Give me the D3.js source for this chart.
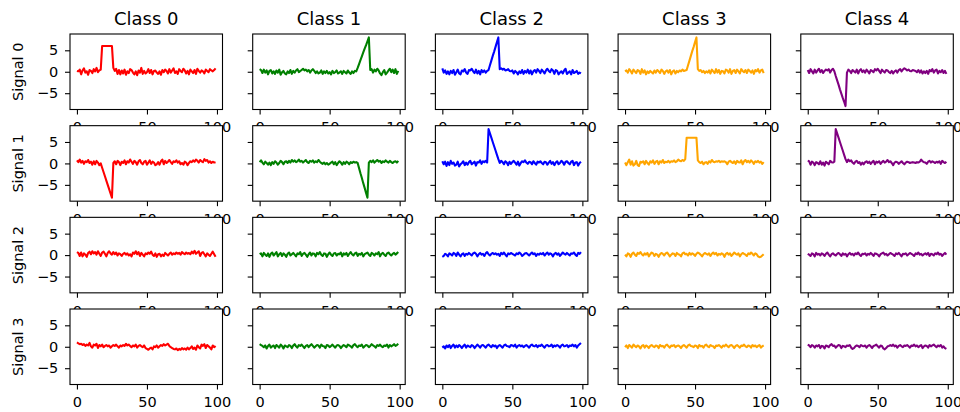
<!DOCTYPE html>
<html>
<head>
<meta charset="utf-8">
<script src="https://d3js.org/d3.v7.min.js"></script>
<style>
  body { margin: 0; background: #fff; }
  text { font-family: "DejaVu Sans", sans-serif; fill: #000; }
</style>
</head>
<body>
<div id="chart"></div>
<script>
const classes = ["Class 0", "Class 1", "Class 2", "Class 3", "Class 4"];
const signals = ["Signal 0", "Signal 1", "Signal 2", "Signal 3"];
const xTicks = [0, 50, 100];
const yTicks = [-5, 0, 5];

// Signal 0
const s0c0 = [0.2,0.1,0.5,-0.6,0.3,0.8,-0.2,0.1,-0.7,0.4,
  0.2,-0.3,0.6,0.1,0.9,-0.1,0.3,0.5,6,6,
  6,6,6,6,6,6,0.9,0.2,0.7,-0.5,
  0.4,-0.6,0.3,-0.4,0.5,-0.7,0.1,-0.3,0.6,0.4,
  -0.2,-0.6,0.1,-0.8,0.3,-0.2,0.9,-0.5,0.2,-0.4,
  -0.1,0.6,-0.3,0.4,-0.6,0.2,0.3,-0.2,-0.5,0.1,
  -0.7,0.4,-0.1,0.5,0.2,-0.4,0.6,-0.2,0.3,0.8,
  -0.3,0.1,-0.5,0.6,0.2,-0.1,0.7,0.3,-0.4,0.2,
  -0.6,0.5,0.1,-0.3,0.4,-0.5,0.7,0.2,-0.2,0.3,
  0.1,-0.4,0.5,0.2,-0.1,0.6,0.3,0.1,0.4,0.8];
const s0c1 = [0.6,0.4,-0.3,0.5,-0.2,0.3,-0.6,0.2,0.4,-0.4,
  0.1,-0.5,0.3,-0.2,0.5,-0.7,-0.1,0.2,-0.4,-0.6,
  0.1,-0.3,0.4,-0.5,0.2,-0.2,0.3,0.6,-0.1,0.2,
  0.4,0.7,0.3,0.5,0.1,0.4,-0.2,0.3,0.6,0.2,
  -0.3,0.1,-0.4,-0.2,0.3,-0.5,0.1,-0.3,0.2,-0.4,
  -0.1,-0.6,0.2,-0.3,-0.1,0.3,-0.4,-0.2,0.1,-0.5,
  0.2,-0.1,-0.4,0.3,-0.2,-0.5,0.1,-0.3,0.2,0.1,
  0.9,1.8,2.7,3.6,4.5,5.4,6.2,7.1,8.0,0.4,
  0.6,-0.2,0.5,0.1,0.7,0.3,-0.4,-0.8,-0.1,0.4,
  -0.6,-0.2,0.3,0.7,-0.1,0.5,-0.3,0.6,-0.5,0.2];
const s0c2 = [0.8,-0.2,0.3,-0.5,0.1,-0.6,0.2,-0.3,0.4,-0.7,
  -0.1,0.5,-0.4,-0.6,0.3,0.1,0.6,-0.2,-0.5,0.4,
  0.3,0.7,0.1,-0.3,0.5,-0.4,0.2,-0.6,0.4,-0.1,
  0.3,-0.2,0.2,0.4,1.5,2.6,3.7,4.7,5.8,6.9,
  8.0,0.6,0.8,0.5,0.7,0.3,0.4,0.6,0.2,0.1,
  0.3,-0.4,0.2,-0.1,-0.6,0.1,-0.3,0.4,-0.5,0.2,
  -0.2,0.5,-0.4,0.3,-0.6,0.1,0.4,-0.2,0.6,0.2,
  -0.3,0.5,0.1,-0.4,0.3,0.7,0.2,-0.1,0.6,0.3,
  -0.5,0.4,0.2,-0.6,-0.2,0.1,-0.4,0.3,0.7,-0.5,
  -0.2,0.1,-0.6,0.4,-0.3,-0.1,0.2,-0.5,-0.2,-0.4];
const s0c3 = [0.1,0.3,-0.2,0.6,0.2,-0.4,0.5,0.1,-0.3,0.4,
  0.2,-0.5,0.6,-0.2,0.3,-0.6,0.1,-0.3,0.2,-0.1,
  -0.4,0.3,-0.2,0.4,0.1,-0.3,0.5,0.2,-0.5,0.1,
  0.3,-0.2,0.4,-0.6,0.1,0.3,-0.4,0.2,-0.1,0.3,
  0.1,0.5,0.2,0.3,0.4,1.5,2.6,3.7,4.8,5.8,
  6.9,8.0,0.6,0.2,0.4,-0.1,0.2,-0.3,0.1,-0.2,
  0.3,-0.4,0.5,0.1,-0.3,0.6,-0.2,0.4,-0.5,0.2,
  0.1,-0.4,0.5,0.3,-0.2,0.6,-0.5,0.2,0.4,-0.3,
  0.5,0.1,-0.4,0.6,0.2,-0.1,0.4,-0.3,0.5,0.2,
  -0.2,0.3,-0.5,0.4,0.1,0.6,-0.2,0.3,0.5,-0.3];
const s0c4 = [0.4,-0.3,0.6,0.1,-0.4,0.5,-0.2,0.3,0.7,-0.1,
  0.4,-0.3,0.2,0.5,0.3,0.6,-0.2,0.4,0.7,0.1,
  -1.0,-2.0,-3.0,-4.1,-5.1,-6.1,-7.0,-8.0,-0.2,0.5,
  0.2,-0.3,0.4,0.1,-0.2,0.5,-0.4,0.3,0.6,-0.1,
  0.3,-0.2,0.5,0.1,-0.4,0.4,0.2,-0.1,0.6,0.3,
  0.7,0.2,-0.3,0.5,0.1,-0.2,0.4,0.3,-0.1,-0.3,
  0.2,-0.4,0.1,0.3,-0.2,0.4,0.6,0.1,0.5,0.8,
  0.6,0.3,0.5,0.2,0.1,0.4,0.3,0.2,-0.1,0.4,
  -0.2,0.3,-0.4,0.1,-0.3,0.2,-0.5,0.4,0.1,0.6,
  -0.2,0.3,0.5,-0.4,0.2,-0.1,0.4,-0.3,0.2,-0.5];

// Signal 1
const s1c0 = [0.7,0.3,0.9,0.2,0.6,-0.1,0.5,0.3,0.8,0.1,
  0.4,-0.3,0.5,-0.2,0.6,0.2,-0.4,0.0,-1.0,-2.0,
  -3.0,-4.0,-5.0,-6.0,-7.0,-8.0,0.1,0.5,-0.2,0.6,
  0.3,-0.4,0.4,0.1,0.7,-0.2,0.5,0.2,0.9,0.4,
  -0.1,0.6,0.3,-0.3,0.5,0.8,0.1,-0.2,0.4,0.6,
  -0.3,0.2,0.7,-0.1,0.4,0.2,-0.4,-0.2,0.3,-0.3,
  0.5,0.9,-0.2,0.6,0.1,0.4,0.8,0.3,-0.1,0.5,
  0.3,0.7,0.2,0.5,-0.2,0.1,-0.3,0.4,0.2,-0.4,
  0.1,0.5,0.3,0.7,0.4,0.9,0.6,0.2,0.8,0.5,
  0.3,1.0,0.6,0.8,0.2,0.5,0.1,0.4,0.2,0.3];
const s1c1 = [0.3,0.7,0.2,-0.2,0.4,0.1,-0.3,0.2,-0.4,0.3,
  -0.1,0.5,0.2,-0.3,0.1,0.6,0.3,-0.2,0.4,0.5,
  0.1,0.6,0.2,0.8,0.4,0.7,0.3,0.5,0.9,0.4,
  0.6,0.2,0.5,0.8,0.3,0.1,0.6,0.4,0.7,0.2,
  0.5,0.3,0.8,0.4,0.1,-0.1,0.2,-0.2,0.1,-0.3,
  -0.1,0.2,0.4,-0.2,0.3,-0.4,0.1,0.5,0.2,-0.3,
  0.3,-0.1,0.4,0.2,-0.2,0.3,0.1,0.4,0.2,0.3,
  0.1,-1.1,-2.3,-3.4,-4.6,-5.7,-6.9,-8.0,0.2,0.6,
  0.3,0.7,0.2,0.5,0.8,0.4,0.6,0.1,0.5,0.3,
  0.7,0.4,0.2,0.6,0.3,0.1,0.4,0.5,0.2,0.6];
const s1c2 = [0.5,-0.2,0.4,-0.6,0.3,-0.4,0.6,-0.1,0.2,-0.5,
  -0.3,0.4,-0.7,-0.2,0.1,0.5,-0.4,0.2,-0.3,0.3,
  0.6,-0.2,0.1,0.4,-0.5,0.3,0.2,0.7,-0.1,0.5,
  0.3,0.6,0.2,8.0,7.0,6.0,5.0,4.0,3.0,2.0,
  1.0,0.1,0.6,0.3,-0.2,0.5,0.2,-0.4,0.4,-0.1,
  0.3,0.6,0.2,-0.3,0.4,-0.5,0.1,0.5,0.3,0.7,
  0.2,-0.1,0.4,0.3,-0.2,0.5,0.1,-0.3,0.4,0.2,
  0.5,0.1,-0.2,0.4,0.3,-0.3,0.2,0.6,-0.1,0.3,
  -0.4,0.2,0.5,-0.2,0.1,0.6,0.3,-0.3,0.4,0.5,
  0.1,-0.2,0.4,0.6,-0.4,0.2,0.3,-0.5,0.1,0.4];
const s1c3 = [0.2,-0.4,0.3,0.9,-0.3,0.5,-0.5,-0.2,0.6,-0.4,
  -0.6,0.4,0.2,0.5,-0.2,0.6,0.1,-0.3,0.5,0.2,
  0.7,-0.1,0.4,0.6,-0.2,0.5,0.2,0.8,0.1,0.4,
  0.3,0.6,0.2,0.5,0.4,0.7,0.3,0.5,0.9,0.6,
  0.5,0.8,0.6,1.0,6,6,6,6,6,6,
  6,6,0.7,0.3,0.1,0.4,-0.2,0.2,0.3,-0.1,
  0.5,0.2,0.8,0.4,0.3,0.5,0.4,0.6,0.3,0.5,
  0.4,0.5,0.3,-0.2,0.4,0.6,0.3,0.1,0.5,-0.1,
  0.6,0.3,0.2,0.7,-0.2,0.5,0.8,0.3,0.6,0.2,
  0.7,0.4,-0.1,0.5,0.3,0.6,0.2,0.4,-0.1,0.3];
const s1c4 = [0.6,0.5,-0.3,0.4,0.2,-0.4,0.3,0.1,-0.2,0.5,
  -0.3,0.2,-0.5,0.4,0.1,-0.2,0.6,0.3,0.2,0.4,
  8.0,7.0,6.0,5.0,4.0,3.0,2.0,1.0,0.3,0.9,
  0.5,0.7,0.2,-0.1,0.4,0.6,0.1,0.3,-0.3,0.2,
  -0.2,0.3,0.5,0.1,0.4,-0.1,0.3,0.6,-0.2,0.4,
  0.2,0.5,-0.1,0.3,0.6,0.2,0.4,0.8,0.3,0.5,
  0.1,-0.4,0.2,0.4,0.3,-0.1,0.2,0.5,0.1,-0.2,
  0.2,0.4,0.3,0.1,0.2,0.3,0.2,0.1,0.3,0.2,
  0.4,0.9,0.5,0.3,0.2,-0.1,0.4,0.6,0.2,0.5,
  0.3,0.1,0.4,0.2,0.5,-0.1,0.6,0.3,0.1,0.4];

// Signal 2
const s2c0 = [0.7,0.5,-0.2,0.6,-0.3,0.4,0.1,-0.4,0.5,0.8,
  0.2,0.9,0.4,0.7,0.1,0.9,0.3,-0.2,0.6,0.8,
  0.3,-0.3,0.5,0.9,0.4,0.1,0.7,0.2,0.6,-0.1,
  0.4,0.2,-0.2,0.3,0.5,0.1,0.4,-0.1,0.2,-0.3,
  0.6,0.3,0.9,0.2,0.7,-0.2,0.5,0.1,-0.3,0.4,
  0.2,0.6,0.3,0.8,0.1,-0.2,0.4,-0.4,0.2,0.3,
  -0.3,0.1,-0.2,0.5,0.2,-0.1,0.3,0.6,0.1,0.4,
  0.2,0.6,0.3,0.5,0.1,0.7,0.4,0.2,0.6,0.3,
  0.5,0.2,0.8,0.4,1.0,0.3,0.6,0.9,-0.2,0.5,
  0.7,0.2,-0.3,0.4,0.1,-0.2,0.3,0.8,0.2,-0.4];
const s2c1 = [0.2,0.4,-0.3,0.5,0.1,-0.2,0.4,-0.4,0.3,0.6,
  -0.1,0.3,0.7,-0.3,0.2,0.5,-0.2,0.4,0.1,-0.4,
  0.3,0.6,-0.1,0.2,0.5,0.1,-0.3,0.4,0.2,0.7,
  -0.2,0.3,0.5,0.1,-0.4,0.2,0.6,-0.1,0.4,0.3,
  -0.3,0.5,0.2,0.7,0.1,-0.2,0.4,0.3,-0.4,0.2,
  0.6,0.1,-0.2,0.4,0.5,-0.1,0.3,0.2,0.6,-0.3,
  0.4,0.1,0.5,-0.2,0.3,0.7,0.2,-0.1,0.4,0.6,
  -0.2,0.3,0.1,0.5,-0.3,0.2,0.4,0.6,0.1,-0.2,
  0.5,0.3,-0.1,0.4,0.2,0.7,-0.3,0.3,0.5,0.1,
  -0.2,0.4,0.6,0.2,-0.1,0.3,0.5,0.1,0.4,0.7];
const s2c2 = [-0.4,-0.2,0.3,0.1,-0.3,0.4,0.2,-0.1,0.5,0.3,
  -0.2,0.6,0.1,-0.3,0.2,0.4,-0.2,0.3,0.1,0.5,
  0.2,-0.1,0.4,0.6,0.3,-0.3,0.2,0.5,0.1,0.3,
  -0.2,0.4,0.7,0.2,-0.1,0.3,0.5,0.2,0.4,0.1,
  0.3,-0.2,0.5,0.2,0.6,0.1,-0.3,0.4,0.2,0.5,
  0.3,0.1,-0.1,0.4,0.2,0.6,0.3,-0.2,0.1,0.4,
  0.5,0.2,-0.1,0.3,0.6,0.2,0.4,-0.2,0.3,0.1,
  0.4,0.2,0.5,-0.1,0.3,0.6,0.1,0.4,0.2,-0.3,
  0.3,0.5,0.1,0.4,-0.2,0.2,0.6,0.3,0.1,0.5,
  0.2,-0.1,0.4,0.3,0.6,0.1,-0.2,0.5,0.3,0.7];
const s2c3 = [0.1,-0.3,0.4,0.2,-0.4,0.3,0.6,0.1,-0.2,0.5,
  0.3,0.7,0.2,-0.1,0.4,0.1,0.5,-0.3,0.2,0.6,
  0.4,-0.2,0.3,0.1,-0.4,0.2,0.5,0.3,-0.1,0.4,
  0.6,0.2,-0.3,0.1,0.4,0.3,-0.2,0.5,0.2,0.1,
  -0.3,0.4,0.6,0.2,0.3,-0.1,0.5,0.1,0.4,0.2,
  -0.2,0.3,0.6,0.4,0.1,-0.3,0.2,0.5,0.3,0.1,
  0.4,-0.2,0.3,0.6,0.2,0.5,-0.1,0.3,0.1,0.4,
  0.2,-0.4,0.3,0.5,0.1,0.4,-0.2,0.2,0.6,0.3,
  0.1,0.4,-0.3,0.2,0.5,0.3,0.1,-0.2,0.4,0.2,
  0.6,0.3,-0.1,0.4,0.2,-0.3,-0.5,-0.4,-0.1,0.2];
const s2c4 = [0.3,0.1,-0.2,0.4,0.2,-0.3,0.5,0.1,0.3,-0.1,
  0.4,0.2,-0.2,0.3,0.6,0.1,-0.3,0.2,0.4,0.1,
  -0.1,0.3,0.5,0.2,-0.2,0.4,0.1,0.3,-0.3,0.2,
  0.5,0.1,0.3,-0.1,0.4,0.2,0.6,0.1,-0.2,0.3,
  0.2,0.4,-0.1,0.3,0.1,0.5,0.2,-0.2,0.4,0.3,
  0.1,-0.3,0.2,0.4,0.6,0.1,0.3,-0.1,0.2,0.5,
  0.3,0.1,-0.2,0.4,0.2,0.5,0.1,-0.3,0.3,0.2,
  0.4,-0.1,0.2,0.5,0.3,0.1,-0.2,0.4,0.2,0.6,
  0.1,0.3,-0.1,0.2,0.4,0.1,0.5,-0.2,0.3,0.2,
  -0.1,0.4,0.2,0.6,0.1,0.3,-0.2,0.2,0.5,0.1];

// Signal 3
const s3c0 = [1.0,0.8,0.6,0.7,0.4,0.6,0.2,0.5,0.3,0.9,
  0.1,-0.2,0.5,0.3,0.7,-0.3,0.4,0.1,0.5,-0.1,
  0.2,0.4,0.1,0.3,-0.2,0.1,0.4,0.2,0.5,0.1,
  -0.2,0.3,0.1,0.4,0.2,0.7,0.3,0.5,0.2,-0.1,
  0.3,0.1,0.5,-0.2,0.2,0.4,0.1,-0.1,0.3,-0.3,
  -0.5,-0.7,-0.4,-0.2,-0.6,0.1,-0.1,0.3,-0.2,0.1,
  0.4,0.2,0.6,0.3,0.5,0.7,0.2,-0.1,-0.3,-0.5,
  -0.6,-0.4,-0.8,-0.5,-0.7,-0.3,-0.6,-0.4,-0.7,-0.2,
  -0.6,-0.3,0.1,-0.5,-0.2,-0.7,0.3,-0.1,-0.4,0.5,
  0.2,0.6,-0.3,0.4,0.1,-0.2,-0.6,0.3,-0.1,0.2];
const s3c1 = [0.6,0.4,0.2,-0.1,0.3,-0.4,0.2,0.5,-0.2,0.1,
  0.3,-0.3,0.4,0.1,-0.2,0.5,0.2,-0.4,0.3,0.1,
  -0.1,0.4,0.2,-0.3,0.3,0.6,0.1,-0.2,0.4,0.2,
  0.5,0.1,-0.3,0.2,0.4,-0.1,0.3,0.6,0.2,-0.2,
  0.1,0.4,0.3,-0.2,0.5,0.2,0.1,-0.3,0.4,0.3,
  -0.1,0.2,0.5,0.1,-0.2,0.3,0.4,0.2,-0.3,0.1,
  0.4,0.2,-0.1,0.5,0.3,0.1,-0.2,0.4,0.6,0.2,
  -0.1,0.3,0.2,0.5,-0.2,0.1,0.4,0.3,-0.1,0.2,
  0.6,0.3,0.1,-0.2,0.4,0.2,0.5,0.1,-0.1,0.3,
  0.2,0.5,-0.2,0.4,0.1,0.3,0.6,0.2,0.4,0.7];
const s3c2 = [-0.2,0.1,-0.4,0.3,-0.1,0.4,-0.3,0.2,0.5,-0.2,
  0.3,-0.1,0.4,0.1,-0.3,0.2,0.5,-0.2,0.3,0.1,
  -0.1,0.4,0.2,-0.3,0.1,0.5,0.2,-0.2,0.3,0.4,
  0.1,-0.2,0.3,0.5,0.2,-0.1,0.4,0.1,0.3,-0.3,
  0.2,0.4,0.1,-0.2,0.3,0.5,0.2,0.1,-0.1,0.4,
  0.3,0.1,0.5,-0.2,0.2,0.4,0.1,0.3,-0.1,0.2,
  0.4,0.1,-0.2,0.3,0.5,0.2,0.1,0.4,-0.1,0.3,
  0.2,0.5,0.1,-0.2,0.3,0.4,0.1,0.2,0.5,-0.1,
  0.3,0.1,0.4,0.2,-0.2,0.3,0.5,0.1,0.2,0.4,
  -0.1,0.3,0.2,0.5,0.1,0.4,-0.2,0.3,0.6,0.9];
const s3c3 = [-0.1,0.3,-0.3,0.4,0.1,-0.2,0.5,0.2,-0.1,0.3,
  0.1,-0.4,0.2,0.4,-0.2,0.3,0.1,-0.3,0.2,0.4,
  0.1,-0.1,0.3,0.2,-0.3,0.4,0.1,0.2,-0.2,0.3,
  0.5,0.1,-0.2,0.3,0.2,0.4,-0.1,0.2,0.3,0.1,
  -0.3,0.2,0.4,0.1,-0.2,0.3,0.5,0.2,0.1,-0.1,
  0.3,0.2,-0.3,0.4,0.1,0.2,-0.2,0.3,0.5,0.1,
  -0.1,0.4,0.2,0.1,-0.3,0.3,0.2,0.4,0.1,-0.2,
  0.3,0.1,0.5,0.2,-0.1,0.3,0.4,0.1,-0.3,0.2,
  0.4,0.1,-0.2,0.3,0.2,0.5,0.1,-0.1,0.3,0.2,
  -0.2,0.4,0.1,0.3,-0.1,0.2,0.4,-0.2,0.1,0.3];
const s3c4 = [0.5,0.3,-0.1,0.4,0.2,-0.2,0.3,0.1,0.4,-0.3,
  0.2,0.1,-0.4,0.3,0.2,-0.1,0.4,0.6,0.2,0.3,
  -0.2,0.1,0.4,0.3,-0.3,0.2,0.1,-0.1,0.3,0.2,
  0.4,-0.2,-0.5,-0.3,0.1,0.3,0.2,-0.1,0.4,0.2,
  0.1,0.3,-0.2,0.2,0.4,0.1,-0.3,0.2,0.3,0.5,
  0.1,-0.2,0.3,0.2,-0.4,-0.6,-0.3,0.1,0.2,0.4,
  0.2,0.5,0.1,0.3,-0.2,0.2,0.4,0.1,-0.1,0.3,
  0.2,0.4,0.1,-0.2,0.3,0.2,0.5,0.1,0.3,-0.1,
  0.2,0.4,-0.3,0.1,0.3,0.2,-0.2,0.4,0.1,0.3,
  0.5,0.2,-0.1,0.3,0.1,0.4,-0.2,0.1,-0.3,-0.5];

const grid = [
  [s0c0, s0c1, s0c2, s0c3, s0c4],
  [s1c0, s1c1, s1c2, s1c3, s1c4],
  [s2c0, s2c1, s2c2, s2c3, s2c4],
  [s3c0, s3c1, s3c2, s3c3, s3c4]
];
const classColors = ["red", "green", "blue", "orange", "purple"];

const width = 960, height = 412;
const svg = d3.select("#chart").append("svg")
  .attr("width", width)
  .attr("height", height);

// panel geometry
const left0 = 70, top0 = 34, pw = 152.5, ph = 75.5, stepX = 182.7, stepY = 91.67;

const x = d3.scaleLinear().domain([-4.95, 103.95]).range([0, pw]);
const y = d3.scaleLinear().domain([-8.8, 8.8]).range([ph, 0]);

const line = d3.line()
  .x((d, i) => x(i))
  .y(d => y(d));

// draw row by row so later panels cover earlier tick labels, like matplotlib
signals.forEach((sig, r) => {
  classes.forEach((cls, c) => {
    const g = svg.append("g")
      .attr("transform", `translate(${left0 + c * stepX},${top0 + r * stepY})`);

    g.append("rect")
      .attr("width", pw)
      .attr("height", ph)
      .attr("fill", "#fff");

    g.append("path")
      .datum(grid[r][c])
      .attr("d", line)
      .attr("fill", "none")
      .attr("stroke", classColors[c])
      .attr("stroke-width", 2.08)
      .attr("stroke-linejoin", "round");

    g.append("rect")
      .attr("width", pw)
      .attr("height", ph)
      .attr("fill", "none")
      .attr("stroke", "#000")
      .attr("stroke-width", 1.1);

    const xAxis = d3.axisBottom(x)
      .tickValues(xTicks)
      .tickSize(5)
      .tickPadding(7.7)
      .tickFormat(d3.format("d"));
    const yAxis = d3.axisLeft(y)
      .tickValues(yTicks)
      .tickSize(5)
      .tickPadding(6.7)
      .tickFormat(c === 0 ? d3.format("d") : () => "");

    const xg = g.append("g").attr("transform", `translate(0,${ph})`).call(xAxis);
    const yg = g.append("g").call(yAxis);
    [xg, yg].forEach(a => {
      a.select(".domain").remove();
      a.selectAll(".tick line").attr("stroke", "#000").attr("stroke-width", 1.1);
      a.selectAll(".tick text")
        .attr("fill", "#000")
        .style("font-family", "DejaVu Sans, sans-serif")
        .style("font-size", "14.5px");
    });

    if (r === 0) {
      g.append("text")
        .attr("x", pw / 2)
        .attr("y", -8.7)
        .attr("text-anchor", "middle")
        .style("font-size", "18px")
        .text(cls);
    }
    if (c === 0) {
      g.append("text")
        .attr("transform", `translate(${19 - left0},${ph / 2}) rotate(-90)`)
        .attr("text-anchor", "middle")
        .attr("dy", "0.25em")
        .style("font-size", "14.5px")
        .text(sig);
    }
  });
});
</script>
</body>
</html>
